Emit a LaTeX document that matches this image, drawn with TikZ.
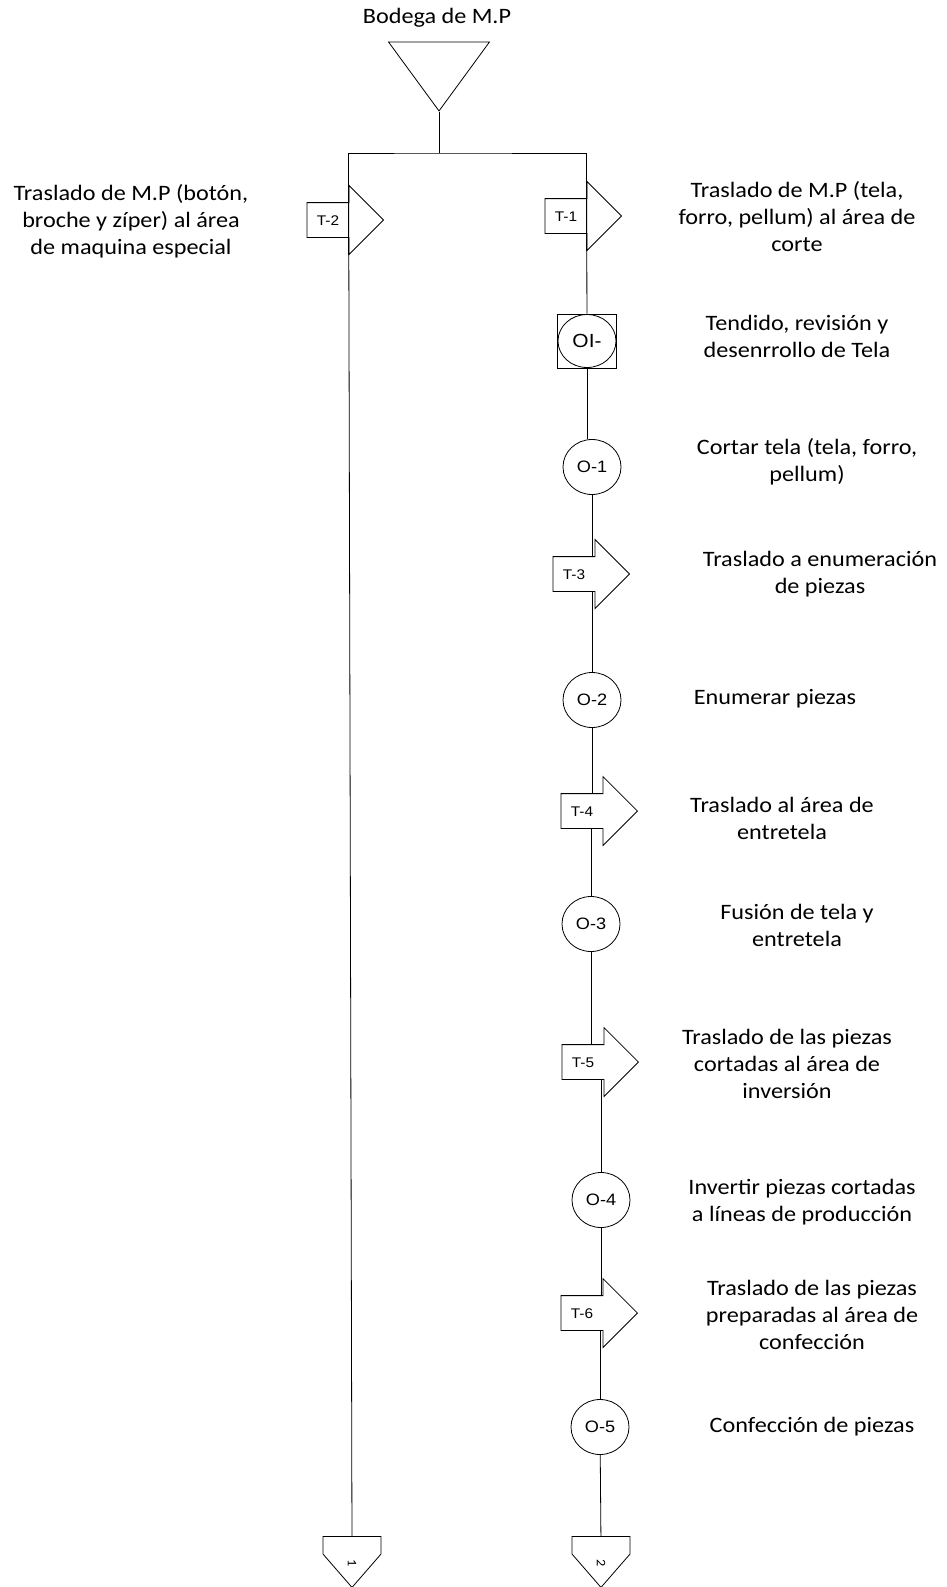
\documentclass[tikz,border=0pt]{standalone}
\usepackage{fontspec}
\setmainfont{Carlito}[FakeStretch=1.1]
\newfontfamily\shapefont{Liberation Sans}[FakeStretch=1.1]
\usetikzlibrary{shapes.geometric,shapes.arrows,shapes.symbols}

\begin{document}
\begin{tikzpicture}[x=1pt,y=-1pt,line width=0.8pt,
	desc/.style={align=center,font=\fontsize{22}{27}\selectfont},
	op node/.style={ellipse,draw,minimum width=58pt,minimum height=55pt,inner sep=0pt,font=\shapefont\fontsize{16.5}{16.5}\selectfont},
	move node/.style={single arrow,draw,anchor=tip,single arrow head extend=17pt,single arrow tip angle=90,minimum width=68pt,inner xsep=0pt,inner ysep=12pt,text height=10pt,text depth=0pt,
		execute at begin node={\hspace*{9.5pt}},execute at end node={\hspace*{26.5pt}},font=\shapefont\fontsize{14}{14}\selectfont},
	combo node/.style={rectangle,draw,minimum width=59pt,minimum height=54pt,inner sep=0pt,font=\shapefont\fontsize{19}{19}\selectfont,
		path picture={\draw (path picture bounding box.center) ellipse (29pt and 26.5pt);}},
	store node/.style={isosceles triangle,isosceles triangle stretches,shape border rotate=270,draw,minimum width=101pt,minimum height=69pt,inner sep=0pt},
	page node/.style={signal,signal to=east,signal pointer angle=82,draw,rotate=-90,anchor=west,minimum width=51pt,minimum height=58pt,inner sep=0pt,font=\fontsize{13}{13}\selectfont}]
	\useasboundingbox (0,0) rectangle (946,1587);

	\node[desc] (bodegatxt) at (437,18) {Bodega de M.P};
	\node[store node,anchor=apex] (bodega) at (439,112) {};
	\coordinate (split) at (439,153);

	\node[move node] (t2) at (384,220) {T-2};
	\node[move node] (t1) at (622,216) {T-1};
	\node[combo node] (oi) at (587,341) {OI-};
	\node[op node] (o1) at (592,467) {O-1};
	\node[move node] (t3) at (630,574) {T-3};
	\node[op node] (o2) at (592,700) {O-2};
	\node[move node] (t4) at (638,811) {T-4};
	\node[op node] (o3) at (591,924) {O-3};
	\node[move node] (t5) at (639,1062) {T-5};
	\node[op node] (o4) at (601,1200) {O-4};
	\node[move node] (t6) at (638,1313) {T-6};
	\node[op node] (o5) at (600,1427) {O-5};
	\node[page node] (p1) at (352,1536) {\rlap{\hspace*{14.5pt}1}};
	\node[page node] (p2) at (601,1536) {\rlap{\hspace*{14.5pt}2}};

	\node[desc] (t2txt) at (131,221) {Traslado de M.P (botón,\\broche y zíper) al área\\de maquina especial};
	\node[desc] (t1txt) at (797,217) {Traslado de M.P (tela,\\forro, pellum) al área de\\corte};
	\node[desc] (oitxt) at (797,336) {Tendido, revisión y\\desenrrollo de Tela};
	\node[desc] (o1txt) at (807,462) {Cortar tela (tela, forro,\\pellum)};
	\node[desc] (t3txt) at (820,574) {Traslado a enumeración\\de piezas};
	\node[desc] (o2txt) at (775,699) {Enumerar piezas};
	\node[desc] (t4txt) at (782,818) {Traslado al área de\\entretela};
	\node[desc] (o3txt) at (797,925) {Fusión de tela y\\entretela};
	\node[desc] (t5txt) at (787,1064) {Traslado de las piezas\\cortadas al área de\\inversión};
	\node[desc] (o4txt) at (802,1202) {Invertir piezas cortadas\\a líneas de producción};
	\node[desc] (t6txt) at (812,1315) {Traslado de las piezas\\preparadas al área de\\confección};
	\node[desc] (o5txt) at (812,1427) {Confección de piezas};

	\draw (bodega.apex) -- (split);
	\draw (t2.after tip) |- (split) -| (t1.after tip);
	\path (t2.before tip) edge (p1)
		(t1.before tip) edge (oi)
		(oi) edge (oi |- o1.north)
		(o1) edge (o1 |- t3.before head)
		(o2 |- t3.after head) edge (o2)
		(o2) edge (o2 |- t4.before head)
		(o3 |- t4.after head) edge (o3)
		(o3) edge (o3 |- t5.before head)
		(o4 |- t5.after head) edge (o4)
		(o4) edge (o4 |- t6.before head)
		(o5 |- t6.after head) edge (o5)
		(o5) edge (p2);
\end{tikzpicture}
\end{document}
